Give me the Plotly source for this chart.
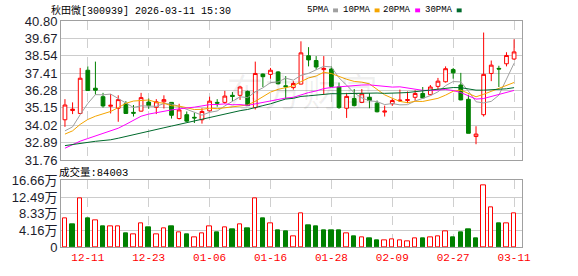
import plotly.graph_objects as go
import pandas as pd

stock_title = "秋田微[300939] 2026-03-11 15:30"

opens = [34.38, 34.98, 34.79, 37.60, 36.43, 35.88, 35.26, 35.13, 35.42, 34.86,
         34.94, 35.53, 35.19, 35.55, 35.51, 34.46, 34.71, 34.54, 34.38, 34.96,
         35.51, 35.51, 35.97, 35.97, 36.22, 35.17, 37.35, 37.33, 37.49, 36.59,
         36.47, 36.70, 38.54, 38.23, 37.64, 37.68, 36.51, 35.13, 35.76, 35.51,
         35.84, 35.46, 34.88, 35.42, 35.61, 35.63, 35.84, 36.09, 36.01, 36.55,
         36.85, 37.64, 36.64, 35.71, 33.29, 34.71, 37.39, 37.72, 38.02, 38.33]
highs = [35.72, 35.51, 37.75, 37.85, 38.16, 36.13, 36.05, 35.97, 35.59, 35.34,
         36.13, 35.76, 35.72, 35.97, 35.53, 35.42, 34.92, 34.84, 35.13, 35.88,
         35.72, 36.26, 36.18, 36.59, 36.28, 38.16, 37.39, 37.75, 37.54, 37.22,
         36.89, 39.48, 39.10, 38.52, 38.52, 37.85, 36.80, 36.13, 36.38, 36.38,
         36.11, 35.63, 35.30, 35.76, 36.34, 36.22, 36.30, 36.51, 36.64, 37.10,
         37.85, 37.75, 37.43, 36.01, 33.96, 40.05, 38.23, 37.89, 38.77, 39.61]
lows = [33.92, 34.75, 34.75, 36.26, 36.01, 35.17, 34.79, 34.25, 34.77, 34.59,
        34.92, 35.09, 34.75, 35.11, 34.46, 34.40, 34.25, 34.17, 34.13, 34.92,
        35.23, 35.42, 35.59, 35.67, 35.30, 35.05, 36.51, 37.05, 36.68, 35.76,
        36.34, 36.68, 37.85, 37.64, 36.01, 36.51, 35.09, 34.50, 35.25, 35.46,
        35.13, 34.86, 34.59, 35.28, 35.55, 35.46, 35.61, 35.76, 35.97, 36.34,
        36.80, 37.05, 35.65, 33.50, 32.79, 34.59, 36.89, 36.51, 37.85, 38.27]
closes = [35.34, 35.07, 37.08, 36.28, 36.30, 35.28, 35.32, 35.69, 34.79, 34.81,
          35.82, 35.30, 35.55, 35.69, 34.67, 35.02, 34.29, 34.50, 34.92, 35.59,
          35.46, 35.92, 35.90, 36.51, 35.30, 37.39, 37.18, 37.60, 36.72, 36.53,
          36.74, 38.73, 38.27, 37.81, 37.72, 36.55, 35.17, 35.90, 35.30, 36.07,
          35.63, 34.90, 34.94, 35.63, 35.65, 35.69, 36.09, 35.80, 36.51, 36.89,
          37.70, 37.43, 35.67, 33.50, 33.45, 37.33, 37.93, 37.68, 38.56, 38.79]
# volume in 万 (10k shares)
volumes_wan = [7.24, 5.63, 12.07, 7.24, 6.68, 5.07, 5.07, 5.07, 3.46, 3.14,
               5.95, 4.83, 3.14, 4.59, 5.07, 3.62, 3.14, 2.33, 3.38, 5.07,
               3.62, 4.83, 4.34, 5.55, 4.59, 12.07, 7.24, 5.95, 4.10, 3.86,
               2.65, 8.37, 5.39, 5.07, 4.10, 4.10, 4.10, 3.38, 2.65, 2.33,
               2.17, 1.69, 1.69, 1.85, 1.69, 1.37, 2.09, 2.17, 2.33, 2.65,
               4.02, 2.41, 3.62, 4.34, 2.17, 15.37, 9.90, 6.03, 5.95, 8.4003]

ma5_lead = [33.66, 33.92, 34.71, 35.44]
ma10_lead = [33.45, 33.66, 34.08, 34.40, 34.61, 34.79, 34.92, 35.17, 35.45]
ma20_lead = [32.53, 32.76, 32.99, 33.16, 33.33, 33.50, 33.62, 33.83, 34.08, 34.33,
             34.61, 34.75, 34.85, 34.94, 35.02, 35.09, 35.13, 35.20, 35.28]
ma30_lead = [32.70, 32.78, 32.85, 32.93, 32.98, 33.03, 33.08, 33.18, 33.30, 33.41,
             33.52, 33.63, 33.75, 33.86, 33.97, 34.08, 34.19, 34.30, 34.40, 34.50,
             34.63, 34.76, 34.88, 34.97, 35.05, 35.15, 35.30, 35.42, 35.59]

price_ticks = [31.76, 32.89, 34.02, 35.15, 36.28, 37.41, 38.54, 39.67, 40.80]
vol_ticks = [0, 4.16, 8.33, 12.49, 16.66]
vol_tick_labels = ["0", "4.16万", "8.33万", "12.49万", "16.66万"]
date_labels = ["12-11", "12-23", "01-06", "01-16", "01-28", "02-09", "02-27", "03-11"]
date_label_idx = [3, 11, 19, 27, 35, 43, 51, 59]
ma_names = ["5PMA", "10PMA", "20PMA", "30PMA"]

RED = "#ff0000"
GREEN = "#008000"
MA_COLORS = ["#a0a0a0", "#f5a500", "#ff00ff", "#006a2c"]

n = len(closes)
x = list(range(n))
cs = pd.Series(closes)


def ma(period, lead):
    vals = cs.rolling(period).mean().tolist()
    return list(lead) + vals[period - 1:]


ma_series = [ma(5, ma5_lead), ma(10, ma10_lead), ma(20, ma20_lead), ma(30, ma30_lead)]

# volume colour: close vs previous close
vol_up = [closes[0] >= opens[0]] + [closes[i] >= closes[i - 1] for i in range(1, n)]

fig = go.Figure()
fig.add_trace(go.Candlestick(
    x=x, open=opens, high=highs, low=lows, close=closes,
    increasing=dict(line=dict(color=RED, width=1), fillcolor="white"),
    decreasing=dict(line=dict(color=GREEN, width=1), fillcolor=GREEN),
    whiskerwidth=0, hoverinfo="skip", showlegend=False, xaxis="x", yaxis="y"))
for vals, col in zip(ma_series, MA_COLORS):
    fig.add_trace(go.Scatter(x=x, y=vals, mode="lines", line=dict(color=col, width=1),
                             hoverinfo="skip", showlegend=False, xaxis="x", yaxis="y"))
fig.add_trace(go.Bar(
    x=x, y=volumes_wan, width=0.58,
    marker=dict(color=["white" if u else GREEN for u in vol_up],
                line=dict(color=[RED if u else GREEN for u in vol_up], width=1)),
    hoverinfo="skip", showlegend=False, xaxis="x2", yaxis="y2"))

L, R, T, B = 56, 56, 21, 21
W, H = 578, 276
pw, ph = W - L - R, H - T - B


def px(v):
    return (v - L) / pw


def py(v):
    return (H - B - v) / ph


main_dom = [py(165), 1]
vol_dom = [0, py(186)]

axis_common = dict(showline=True, mirror=True, linecolor="#a0a0a0", linewidth=1,
                   zeroline=False, ticks="", fixedrange=True)
xr = [-0.52, n + 0.04]
fig.update_layout(
    width=W, height=H, margin=dict(l=L, r=R, t=T, b=B),
    paper_bgcolor="white", plot_bgcolor="white", showlegend=False, bargap=0,
    xaxis=dict(domain=[0, 1], range=xr, anchor="y", tickvals=date_label_idx,
               showticklabels=False, showgrid=True, gridcolor="#cfcfcf", griddash="dash",
               rangeslider=dict(visible=False), **axis_common),
    yaxis=dict(domain=main_dom, range=[price_ticks[0], price_ticks[-1]], anchor="x",
               tickvals=price_ticks, ticktext=[f"{v:.2f}" for v in price_ticks],
               showgrid=True, gridcolor="#cccccc",
               tickfont=dict(family="Liberation Sans, Arial", size=13, color="#1c1c2c"),
               **axis_common),
    xaxis2=dict(domain=[0, 1], range=xr, anchor="y2", tickvals=date_label_idx,
                ticktext=date_labels, showgrid=True, gridcolor="#cfcfcf", griddash="dash",
                tickfont=dict(family="Liberation Mono, monospace", size=11, color=RED),
                **axis_common),
    yaxis2=dict(domain=vol_dom, range=[0, vol_ticks[-1]], anchor="x2",
                tickvals=vol_ticks, ticktext=vol_tick_labels, showgrid=True, gridcolor="#cccccc",
                tickfont=dict(family="Liberation Sans, Noto Sans CJK SC", size=13, color="#1c1c2c"),
                **axis_common),
)

mono = "Liberation Mono, Noto Sans CJK SC"
ann = [
    dict(text=stock_title, x=px(44), y=py(10), xanchor="left", yanchor="middle",
         font=dict(family=mono, size=10, color="#000")),
    dict(text="成交量:" + str(int(round(volumes_wan[-1] * 10000))), x=px(52), y=py(178),
         xanchor="left", yanchor="middle", font=dict(family=mono, size=10.5, color="#000")),
    dict(text="东方财富", x=px(300), y=py(92), xanchor="center", yanchor="middle",
         font=dict(family="Noto Sans CJK SC", size=38, color="rgba(0,0,0,0.06)")),
]
legend_right = [329, 371, 412, 454]
shapes = []
for name, col, xr_ in zip(ma_names, MA_COLORS, legend_right):
    ann.append(dict(text=name, x=px(xr_), y=py(10), xanchor="right", yanchor="middle",
                    font=dict(family=mono, size=9, color="#000")))
    shapes.append(dict(type="rect", xref="paper", yref="paper", x0=px(xr_ + 2), x1=px(xr_ + 7),
                       y0=py(12), y1=py(8), fillcolor=col, line=dict(width=0)))
for a in ann:
    a.update(xref="paper", yref="paper", showarrow=False)
fig.update_layout(annotations=ann, shapes=shapes)

fig.write_html("out.html")
